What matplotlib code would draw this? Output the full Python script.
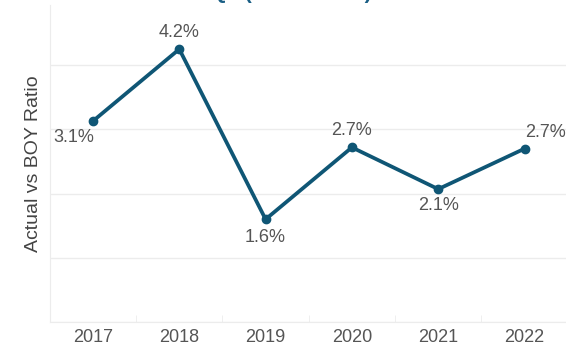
import numpy as np
import matplotlib.pyplot as plt

plt.rcParams['font.family'] = ['Liberation Sans', 'DejaVu Sans']

# data
years = ['2017', '2018', '2019', '2020', '2021', '2022']
ratio = [3.13, 4.25, 1.6, 2.72, 2.07, 2.70]
labels = ['3.1%', '4.2%', '1.6%', '2.7%', '2.1%', '2.7%']
# label placement (dx in categories, dy in points)
label_pos = [(-0.22, -12), (0, 12), (0, -13), (0, 12), (0, -12), (0.24, 12)]

line_col = '#0f5675'
text_col = '#555555'

fig = plt.figure(figsize=(5.66, 3.47), dpi=100)
ax = fig.add_axes([0.088, 0.072, 0.915, 0.914])

x = np.arange(len(years))
ax.plot(x, ratio, color=line_col, linewidth=2.7, marker='o', markersize=6,
        solid_capstyle='round', zorder=3)

for xi, yi, lab, (dx, dy) in zip(x, ratio, labels, label_pos):
    ax.annotate(lab, (xi + dx, yi), xytext=(0, dy), textcoords='offset points',
                ha='center', va='center', fontsize=13, color=text_col)

ax.set_xlim(-0.5, 5.5)
ax.set_ylim(0, 4.94)
ax.set_yticks([0, 1, 2, 3, 4])
ax.set_yticklabels([])
ax.tick_params(axis='y', length=0)
ax.grid(axis='y', color='#ececec', linewidth=1)
ax.set_axisbelow(True)

ax.set_xticks(x)
ax.set_xticklabels(years, fontsize=13, color=text_col)
ax.set_xticks(np.arange(0.5, 5.5, 1), minor=True)
ax.tick_params(axis='x', which='major', length=0, pad=5)
ax.tick_params(axis='x', which='minor', length=5, color='#ececec', direction='in')

for s in ['top', 'right']:
    ax.spines[s].set_visible(False)
ax.spines['left'].set_color('#ececec')
ax.spines['bottom'].set_color('#ececec')

ax.set_ylabel('Actual vs BOY Ratio', fontsize=14, color='#444444', labelpad=2)

fig.text(0.515, 0.99, 'Q1 (Cumulative)', ha='center', va='bottom',
         fontsize=15, fontweight='bold', color='#1a5f85')

fig.savefig('out.png', dpi=100)
